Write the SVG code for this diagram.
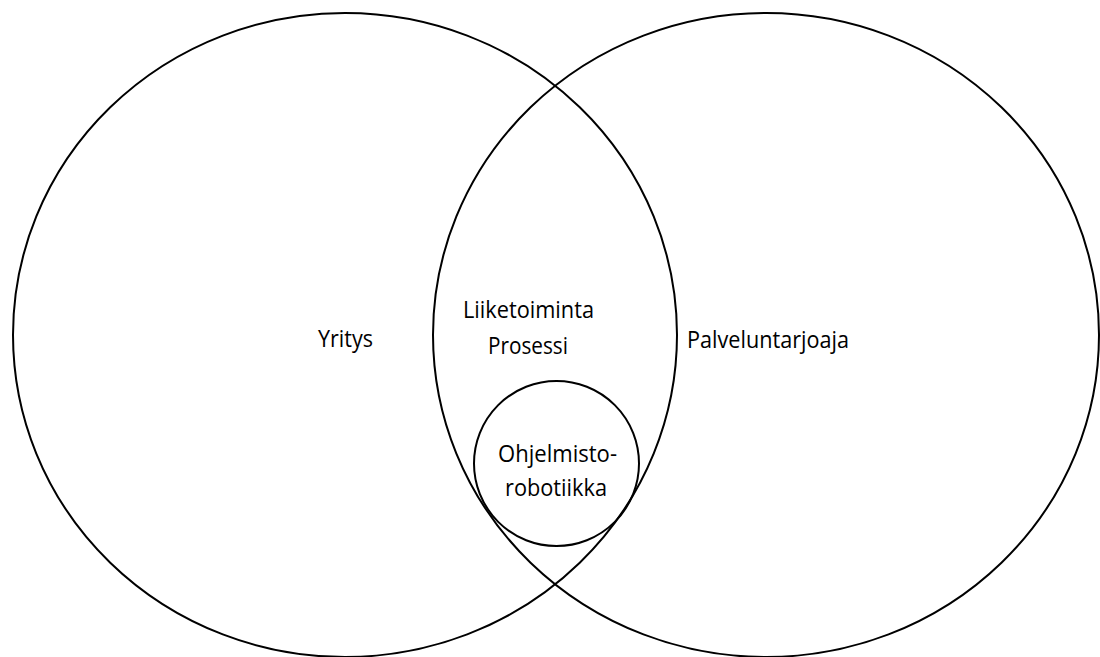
<svg xmlns="http://www.w3.org/2000/svg" width="1100" height="657" viewBox="0 0 1100 657">
  <style>
    .ring { fill: none; stroke: #000; stroke-width: 2; }
    .lbl { font-family: "Open Sans", "Liberation Sans", sans-serif; font-size: 23px; fill: #000; }
  </style>
  <rect width="1100" height="657" fill="#fff"/>
  <g id="yritys">
    <ellipse class="ring" cx="345" cy="335" rx="332" ry="322"/>
    <text class="lbl" x="318" y="347" textLength="55" lengthAdjust="spacingAndGlyphs">Yritys</text>
  </g>
  <g id="palveluntarjoaja">
    <ellipse class="ring" cx="766" cy="335" rx="333" ry="322"/>
    <text class="lbl" x="687" y="348" textLength="162" lengthAdjust="spacingAndGlyphs">Palveluntarjoaja</text>
  </g>
  <g id="liiketoiminta-prosessi">
    <text class="lbl" x="463" y="318" textLength="131" lengthAdjust="spacingAndGlyphs">Liiketoiminta</text>
    <text class="lbl" x="488" y="354" textLength="80" lengthAdjust="spacingAndGlyphs">Prosessi</text>
  </g>
  <g id="ohjelmistorobotiikka">
    <ellipse class="ring" cx="556.5" cy="463.5" rx="82.5" ry="82.5"/>
    <text class="lbl" x="498" y="462" textLength="119" lengthAdjust="spacingAndGlyphs">Ohjelmisto-</text>
    <text class="lbl" x="505" y="496" textLength="102" lengthAdjust="spacingAndGlyphs">robotiikka</text>
  </g>
</svg>
